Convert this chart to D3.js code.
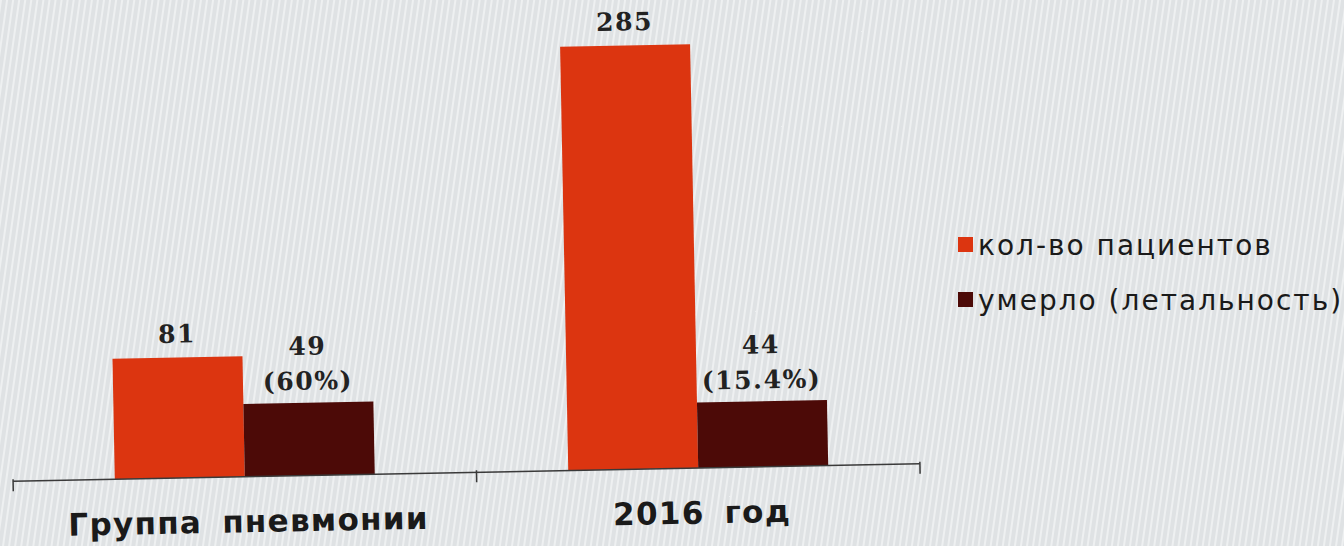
<!DOCTYPE html>
<html><head><meta charset="utf-8">
<script src="https://cdn.jsdelivr.net/npm/d3@7"></script>
<style>html,body{margin:0;padding:0;background:#e1e4e6;}svg{display:block;}</style>
</head><body>
<svg id="c" width="1344" height="546"></svg>
<script>
const categories = ["Группа пневмонии", "2016 год"];
const seriesNames = ["кол-во пациентов", "умерло (летальность)"];
const patients = [81, 285];
const deaths = [49, 44];
const deathRates = ["(60%)", "(15.4%)"];
const colors = ["#dc3510", "#4c0a07"];

const svg = d3.select("#c");
const W = 1344, H = 546;

// background with subtle slanted stripes (photo of screen)
const defs = svg.append("defs");
const pat = defs.append("pattern").attr("id","stripes").attr("width",6).attr("height",6)
  .attr("patternUnits","userSpaceOnUse").attr("patternTransform","rotate(8)");
pat.append("rect").attr("width",6).attr("height",6).attr("fill","#dfe2e4");
pat.append("rect").attr("width",2).attr("height",6).attr("fill","#eef0f1");
svg.append("rect").attr("width",W).attr("height",H).attr("fill","url(#stripes)");

const baseY = 472.5;
const x0 = d3.scaleBand().domain(categories).range([18, 925]).paddingInner(0.4267).paddingOuter(0.2133);
const x1 = d3.scaleBand().domain(seriesNames).range([0, x0.bandwidth()]);
const y = d3.scaleLinear().domain([0, 285]).range([baseY, baseY - 424]);

const rows = categories.map((c, i) => ({cat: c, vals: [patients[i], deaths[i]], rate: deathRates[i]}));

// whole plot slightly tilted like the photographed screen
const plot = svg.append("g").attr("transform", `rotate(-1.1, 467, ${baseY})`);

const lab = {"font-family":"'DejaVu Serif', serif","font-weight":"bold","font-size":"25px","fill":"#222","text-anchor":"middle","letter-spacing":"1.6px"};
rows.forEach(r => {
  const gg = plot.append("g").attr("transform", `translate(${x0(r.cat)},0)`);
  gg.selectAll("rect").data(r.vals).join("rect")
    .attr("x", (d, j) => x1(seriesNames[j]))
    .attr("width", x1.bandwidth())
    .attr("y", d => y(d))
    .attr("height", d => baseY - y(d))
    .attr("fill", (d, j) => colors[j]);
  const cx0 = x1(seriesNames[0]) + x1.bandwidth()/2;
  const cx1 = x1(seriesNames[1]) + x1.bandwidth()/2;
  const t0 = gg.append("text").attr("x", cx0).attr("y", y(r.vals[0]) - 15).text(r.vals[0]);
  const t1 = gg.append("text").attr("x", cx1).attr("y", y(r.vals[1]) - 48).text(r.vals[1]);
  const t2 = gg.append("text").attr("x", cx1).attr("y", y(r.vals[1]) - 13).text(r.rate);
  [t0,t1,t2].forEach(t => Object.entries(lab).forEach(([k,v]) => t.attr(k,v)));
});

// axis
const axis = d3.axisBottom(x0).tickSize(0).tickFormat("");
const ag = plot.append("g").attr("transform", `translate(0,${baseY})`).call(axis);
ag.select(".domain").attr("stroke","#3a3a3a").attr("stroke-width",1.5).attr("d", "M13,0H920");
const edges = [13, (x0(categories[0]) + x0.bandwidth() + x0(categories[1]))/2 + 5, 920];
ag.selectAll(".edge").data(edges).join("line").attr("class","edge")
  .attr("x1", d => d).attr("x2", d => d).attr("y1", -2).attr("y2", 10)
  .attr("stroke","#3a3a3a").attr("stroke-width",1.5);
plot.selectAll(".cat").data(categories).join("text").attr("class","cat")
  .attr("x", d => x0(d) + x0.bandwidth()/2 + 3)
  .attr("y", 528)
  .attr("text-anchor","middle")
  .attr("font-family","'DejaVu Sans', sans-serif")
  .attr("font-weight","bold")
  .attr("font-size","31px")
  .attr("letter-spacing","1.3px")
  .attr("word-spacing","8px")
  .attr("fill","#1a1a1a")
  .text(d => d);

// legend
const lg = svg.append("g").attr("transform","translate(958,236)");
seriesNames.forEach((s, i) => {
  const row = lg.append("g").attr("transform", `translate(0,${i*55})`);
  row.append("rect").attr("width",15).attr("height",15).attr("y",1).attr("fill",colors[i]);
  row.append("text").attr("x",20).attr("y",19)
    .attr("font-family","'DejaVu Sans', sans-serif").attr("font-size","28px")
    .attr("letter-spacing","2px").attr("fill","#1a1a1a").text(s);
});
</script>
</body></html>
